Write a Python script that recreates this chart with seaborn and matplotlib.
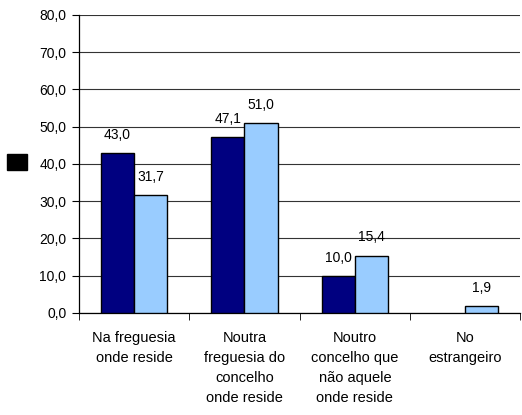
import matplotlib
matplotlib.use('Agg')
import matplotlib.pyplot as plt
import seaborn as sns
import pandas as pd
import numpy as np
from matplotlib.patches import Rectangle

categories = ['Na freguesia\nonde reside', 'Noutra\nfreguesia do\nconcelho\nonde reside',
              'Noutro\nconcelho que\nnão aquele\nonde reside', 'No\nestrangeiro']
serie_a = [43.0, 47.1, 10.0, np.nan]
serie_b = [31.7, 51.0, 15.4, 1.9]

df = pd.DataFrame({
    'cat': categories * 2,
    'serie': ['A'] * 4 + ['B'] * 4,
    'val': serie_a + serie_b,
})

sns.set_style('white')
plt.rcParams['font.family'] = ['Liberation Sans', 'DejaVu Sans']
plt.rcParams['text.color'] = 'black'
plt.rcParams['xtick.color'] = 'black'
plt.rcParams['ytick.color'] = 'black'

fig = plt.figure(figsize=(5.22, 4.15), dpi=100)
ax = fig.add_axes([0.151, 0.246, 0.846, 0.718])

sns.barplot(data=df, x='cat', y='val', hue='serie', palette=['#000080', '#99CCFF'],
            saturation=1, width=0.6, edgecolor='black', linewidth=1, legend=False,
            ax=ax, zorder=3)

ax.set_ylim(0, 80)
ax.set_xlim(-0.5, 3.5)
ax.set_yticks(np.arange(0, 81, 10))
ax.set_yticklabels([f'{v:.1f}'.replace('.', ',') for v in np.arange(0, 81, 10)], fontsize=10)
ax.yaxis.grid(True, color='#333333', linewidth=0.8, zorder=0)
ax.set_xlabel('')
ax.set_ylabel('')
ax.tick_params(axis='x', length=0, pad=13)
for lab in ax.get_xticklabels():
    lab.set_fontsize(10.5)
    lab.set_linespacing(1.55)
    lab.set_verticalalignment('top')
ax.set_xticks(np.arange(-0.5, 3.6, 1), minor=True)
ax.tick_params(axis='x', which='minor', length=5, direction='out', bottom=True)
ax.tick_params(axis='y', length=5, direction='out', left=True, pad=4)
for s in ['top', 'right']:
    ax.spines[s].set_visible(False)
ax.spines['left'].set_color('black')
ax.spines['bottom'].set_color('black')
ax.spines['left'].set_linewidth(0.9)
ax.spines['bottom'].set_linewidth(0.9)

for bars, vals in zip(ax.containers, [serie_a, serie_b]):
    for bar, v in zip(bars, vals):
        if np.isnan(v):
            continue
        ax.annotate(f'{v:.1f}'.replace('.', ','),
                    (bar.get_x() + bar.get_width() / 2, v),
                    xytext=(0, 8), textcoords='offset points',
                    ha='center', va='bottom', fontsize=10)

fig.add_artist(Rectangle((7 / 522, 1 - 170 / 415), 20 / 522, 16 / 415,
                         transform=fig.transFigure, color='black'))

fig.savefig('out.png', dpi=100)
